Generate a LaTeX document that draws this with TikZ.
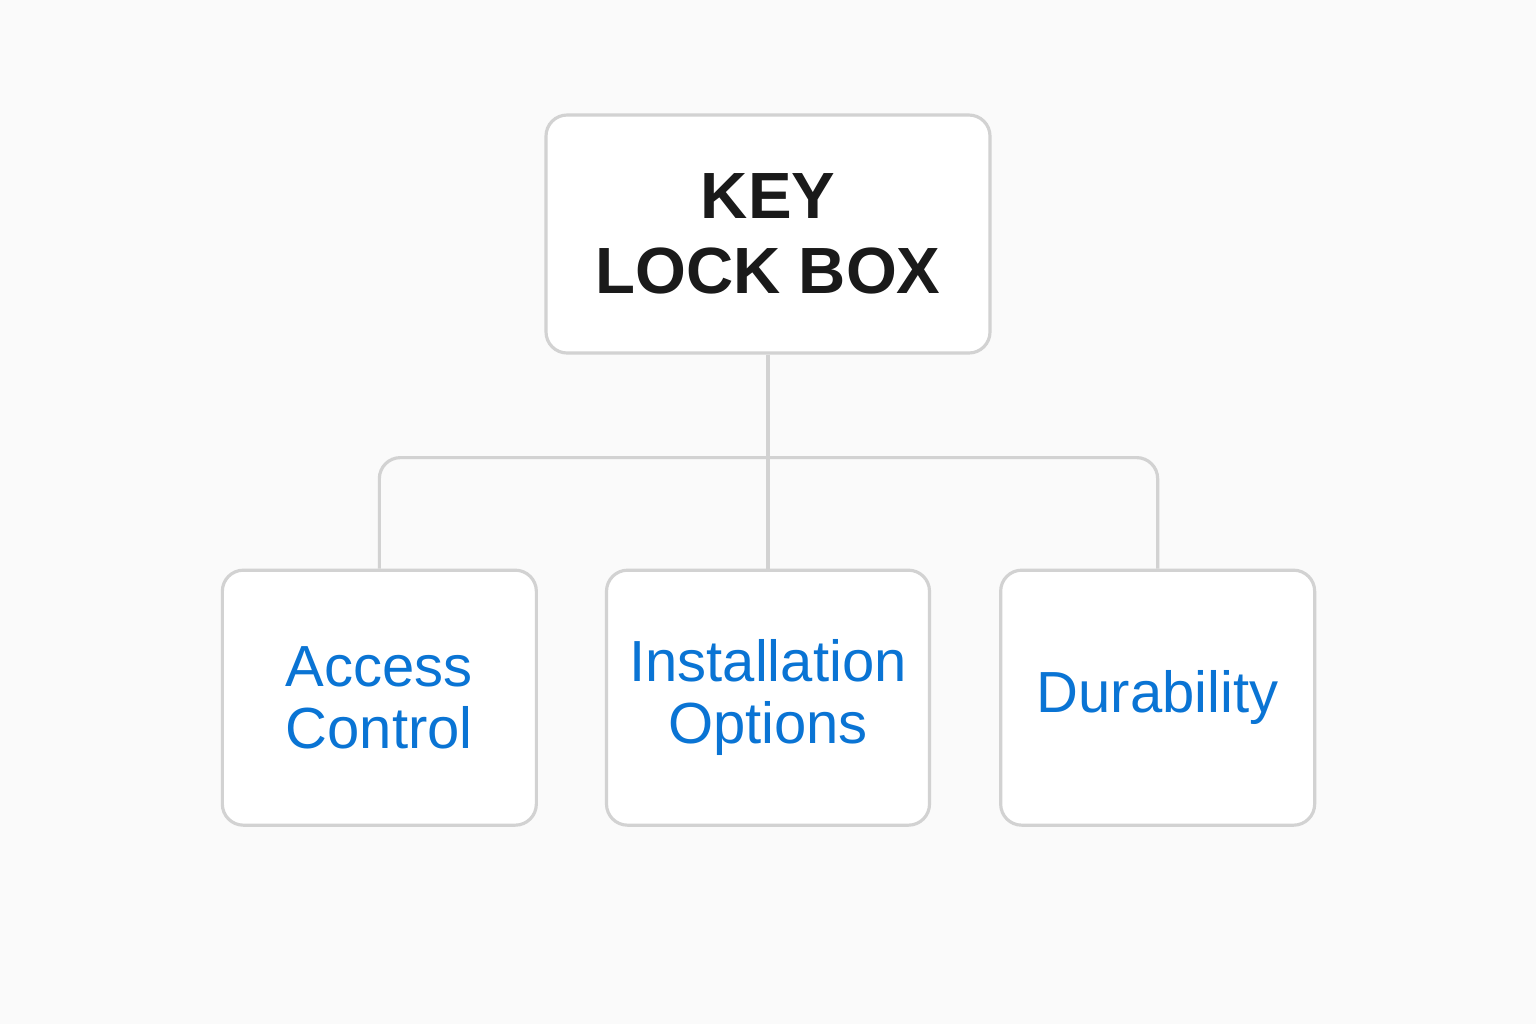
\documentclass[tikz,border=0pt]{standalone}
\usepackage{fontspec}
\setmainfont{Liberation Sans}
\usepackage{xcolor}
\usetikzlibrary{positioning, calc}
\definecolor{boxgray}{HTML}{D2D2D2}
\definecolor{labelblue}{HTML}{0A74D4}
\definecolor{titleblack}{HTML}{1A1A1A}
\definecolor{pagebg}{HTML}{FAFAFA}
\tikzset{
    topbox/.style={
        rectangle,
        rounded corners=6pt,
        draw=boxgray,
        line width=0.9pt,
        fill=white,
        align=center,
        minimum width=4.44cm,
        minimum height=2.38cm,
        text=titleblack,
        font=\fontsize{18.6}{21.3}\selectfont\bfseries,
    },
    childbox/.style={
        rectangle,
        rounded corners=6pt,
        draw=boxgray,
        line width=0.9pt,
        fill=white,
        align=center,
        minimum width=3.14cm,
        minimum height=2.55cm,
        text=labelblue,
        font=\fontsize{16.5}{17.6}\selectfont,
    },
    link/.style={
        draw=boxgray,
        line width=0.9pt,
        rounded corners=6pt,
    },
}
\begin{document}
\begin{tikzpicture}[node distance=2.14cm and 0.67cm]
      % page
      \fill[pagebg] (0,0) rectangle (15.36,-10.24);
      \useasboundingbox (0,0) rectangle (15.36,-10.24);

      \node [topbox] (key) at (7.68,-2.34) {KEY\\LOCK BOX};

      \node [childbox, minimum width=3.23cm] (opt) [below=of key] {Installation\\Options};
      \node [childbox] (acc) [left=of opt] {Access\\Control};
      \node [childbox] (dur) [right=0.68cm of opt] {Durability};

      \coordinate [below=1.03cm of key.south] (bus);

      \draw[link] (key.south) -- (opt.north);
      \draw[link] (acc.north) |- (bus) -| (dur.north);
    \end{tikzpicture}
\end{document}
